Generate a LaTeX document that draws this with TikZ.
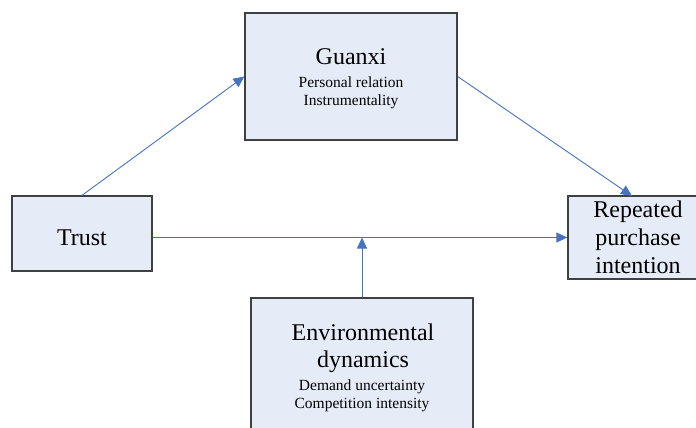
\documentclass[tikz,border=0pt]{standalone}
\usepackage{fontspec}
\setmainfont{Liberation Serif}
\usetikzlibrary{arrows.meta}
\definecolor{boxfill}{RGB}{230,236,247}
\definecolor{boxline}{RGB}{64,64,64}
\definecolor{arrowblue}{RGB}{68,114,196}
\tikzset{
  box/.style={draw=boxline, line width=1.3pt, fill=boxfill, inner sep=0pt},
  big/.style={anchor=base, inner sep=0pt, font=\fontsize{24}{28}\selectfont},
  small/.style={anchor=base, inner sep=0pt, font=\fontsize{15.5}{18}\selectfont},
  link/.style={draw=arrowblue, line width=0.9pt, -{Triangle[length=11pt,width=10pt]}}
}
\begin{document}
\begin{tikzpicture}[x=1pt,y=-1pt]
\useasboundingbox (0,0) rectangle (696,428);
% boxes
\node[box, minimum width=212pt, minimum height=127pt] (guanxi) at (351,76.5) {};
\node[box, minimum width=140pt, minimum height=75pt] (trust) at (82,233.5) {};
\node[box, minimum width=140pt, minimum height=83pt] (repeated) at (638,237.5) {};
\node[box, minimum width=222pt, minimum height=140pt] (env) at (362,368) {};
% texts
\node[big] (tg1) at (351,65) {Guanxi};
\node[small] (tg2) at (351,87) {Personal relation};
\node[small] (tg3) at (351,105) {Instrumentality};
\node[big] (tt1) at (82,245) {Trust};
\node[big] (tr1) at (638,217) {Repeated};
\node[big] (tr2) at (638,245) {purchase};
\node[big] (tr3) at (638,273) {intention};
\node[big] (te1) at (363,340) {Environmental};
\node[big] (te2) at (363,367) {dynamics};
\node[small] (te3) at (362,390) {Demand uncertainty};
\node[small] (te4) at (362,408) {Competition intensity};
% connectors
\coordinate (mod) at (362,237.5);
\coordinate (rtop) at (632,196);
\draw[link] (trust.north) -- (guanxi.west);
\draw[link] (guanxi.east) -- (rtop);
\draw[link] (trust.east |- repeated.west) -- (repeated.west);
\draw[link] (env.north) -- (mod);
\end{tikzpicture}
\end{document}
